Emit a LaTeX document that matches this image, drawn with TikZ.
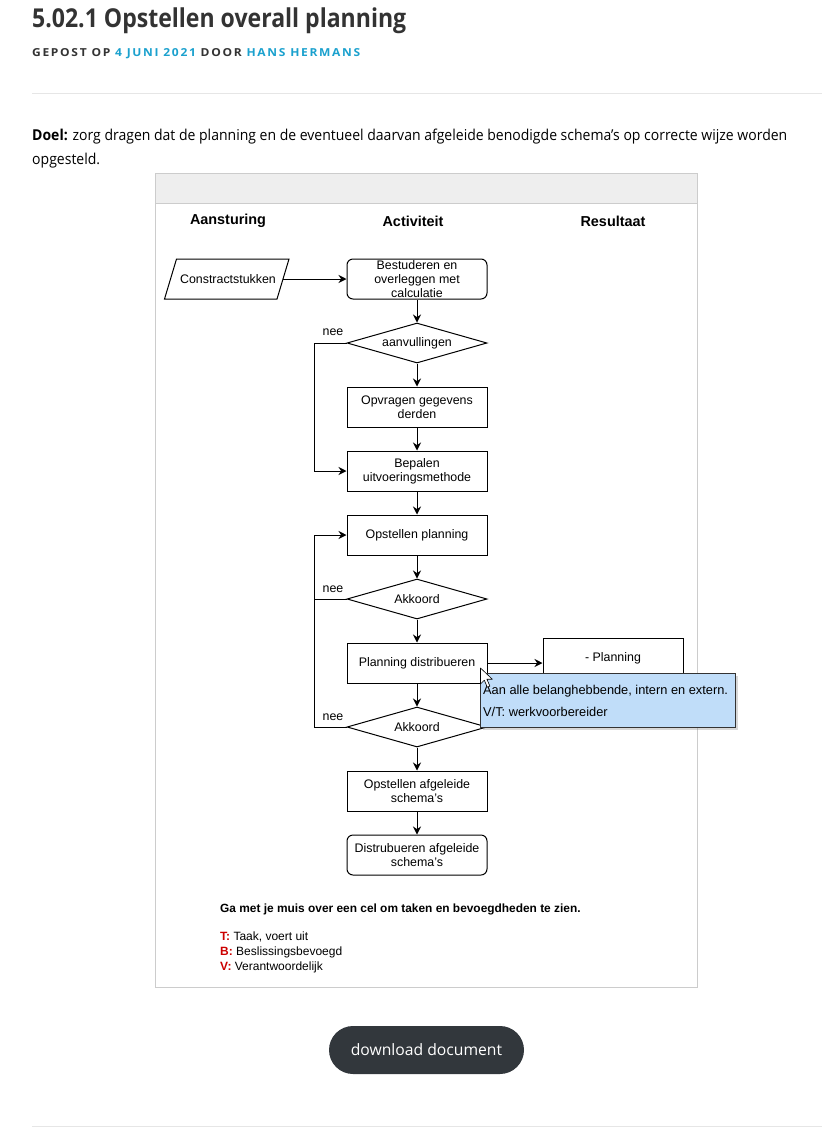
\documentclass[tikz,border=0pt]{standalone}
\usepackage{fontspec}
\usepackage{graphicx}
\setmainfont{Liberation Sans}
\newfontfamily\os{Open Sans}
\newfontfamily\osspaced[LetterSpace=14]{Open Sans}
\usetikzlibrary{shapes.geometric,arrows.meta,shadows}
\definecolor{titlecol}{HTML}{333333}
\definecolor{linkcol}{HTML}{1BA1CE}
\definecolor{framegray}{HTML}{CCCCCC}
\definecolor{headgray}{HTML}{EEEEEE}
\definecolor{hrgray}{HTML}{E6E6E6}
\definecolor{tipfill}{HTML}{C0DDF9}
\definecolor{tipline}{HTML}{333333}
\definecolor{legred}{HTML}{CC0000}
\definecolor{btn}{HTML}{32373C}
\begin{document}
\begin{tikzpicture}[x=1pt,y=-1pt,
  flow/.style={font=\fontsize{12.4}{14}\selectfont, align=center},
  box/.style={flow, draw, line width=1pt, minimum width=140pt, minimum height=40pt, inner sep=1pt},
  rbox/.style={box, rounded corners=6pt},
  dec/.style={flow, draw, line width=1pt, diamond, minimum width=140pt, minimum height=40pt, inner sep=0pt, aspect=3.5},
  arr/.style={-{Stealth[length=8pt,width=8pt]}, line width=1pt},
  con/.style={line width=1pt},
  lbl/.style={font=\fontsize{12.4}{14}\selectfont},
  colhead/.style={font=\bfseries\fontsize{14.4}{16}\selectfont},
  legend/.style={anchor=base west, font=\fontsize{12}{14}\selectfont, inner sep=0pt},
  tipbox/.style={draw=tipline, fill=tipfill, line width=0.8pt, minimum width=255pt, minimum height=54pt, inner sep=0pt,
    drop shadow={opacity=0.3, shadow xshift=2.5pt, shadow yshift=-2.5pt}},
  tiptext/.style={anchor=base west, font=\fontsize{12.8}{15}\selectfont, inner sep=0pt},
  hr/.style={draw=hrgray, line width=1pt}
]
\useasboundingbox (0,0) rectangle (830,1138);
\fill[white] (0,0) rectangle (830,1138);

% page header
\node[anchor=base west, inner sep=0pt, text=titlecol, font=\os\bfseries\fontsize{26}{30}\selectfont] (title) at (32,27)
  {\resizebox{374pt}{\height}{5.02.1 Opstellen overall planning}};
\node[anchor=base west, inner sep=0pt, font=\osspaced\bfseries\fontsize{11}{13}\selectfont] (meta) at (32,56.5)
  {\resizebox{328pt}{\height}{\textcolor{titlecol}{GEPOST OP} \textcolor{linkcol}{4 JUNI 2021} \textcolor{titlecol}{DOOR} \textcolor{linkcol}{HANS HERMANS}}};
\draw[hr] (32,93.5) -- (822,93.5);

\node[anchor=base west, inner sep=0pt, text=black, font=\os\fontsize{15}{18}\selectfont] (doel1) at (32,140)
  {\resizebox{755pt}{\height}{\textbf{Doel:} zorg dragen dat de planning en de eventueel daarvan afgeleide benodigde schema’s op correcte wijze worden}};
\node[anchor=base west, inner sep=0pt, text=black, font=\os\fontsize{15}{18}\selectfont] (doel2) at (32,164)
  {\resizebox{68pt}{\height}{opgesteld.}};

% frame
\fill[headgray] (155.5,173.5) rectangle (697.5,203.5);
\draw[framegray, line width=1pt] (155.5,173.5) rectangle (697.5,987.5);
\draw[framegray, line width=1pt] (155.5,203.5) -- (697.5,203.5);

% column headings
\node[colhead] (h1) at (228,221) {Aansturing};
\node[colhead] (h2) at (413,221) {Activiteit};
\node[colhead] (h3) at (613,221) {Resultaat};

% input parallelogram
\draw[line width=1pt] (164.5,299) -- (176.5,259) -- (289,259) -- (277,299) -- cycle;
\node[flow] (cs) at (228,279) {Constractstukken};
\coordinate (csr) at (283,279);

% flow
\node[rbox] (b1) at (417,279) {Bestuderen en\\overleggen met\\calculatie};
\node[dec] (d1) at (417,343) {aanvullingen};
\node[box] (b2) at (417,407) {Opvragen gegevens\\derden};
\node[box] (b3) at (417,471) {Bepalen\\uitvoeringsmethode};
\node[box] (b4) at (417,535) {Opstellen planning};
\node[dec] (d2) at (417,599) {Akkoord};
\node[box] (b5) at (417,663) {Planning distribueren};
\node[box] (r1) at (613,658) {- Planning};
\node[dec] (d3) at (417,727) {Akkoord};
\node[box] (b6) at (417,791) {Opstellen afgeleide\\schema's};
\node[rbox] (b7) at (417,855) {Distrubueren afgeleide\\schema's};

\draw[arr] (csr) -- (b1.west |- csr);
\draw[arr] (b1) -- (d1);
\draw[arr] (d1) -- (b2);
\draw[arr] (b2) -- (b3);
\draw[arr] (b3) -- (b4);
\draw[arr] (b4) -- (d2);
\draw[arr] (d2) -- (b5);
\draw[arr] (b5) -- (d3);
\draw[arr] (d3) -- (b6);
\draw[arr] (b6) -- (b7);
\draw[arr] (b5.east) -- (b5.east -| r1.west);

% loops
\draw[arr] (d1.west) -- ++(-32,0) |- (b3.west);
\draw[arr] (d3.west) -- ++(-32,0) |- (b4.west);
\draw[con] (d2.west) -- ++(-32,0);
\node[lbl] (n1) at (333,332) {nee};
\node[lbl] (n2) at (333,589) {nee};
\node[lbl] (n3) at (333,717) {nee};

% legend
\node[legend, font=\bfseries\fontsize{11.9}{14}\selectfont] (lg0) at (220,912) {Ga met je muis over een cel om taken en bevoegdheden te zien.};
\node[legend] (lg1) at (220,940) {\textcolor{legred}{\textbf{T:}} Taak, voert uit};
\node[legend] (lg2) at (220,955) {\textcolor{legred}{\textbf{B:}} Beslissingsbevoegd};
\node[legend] (lg3) at (220,970) {\textcolor{legred}{\textbf{V:}} Verantwoordelijk};

% tooltip
\node[tipbox] (tip) at (607.5,700.5) {};
\node[tiptext] (tip1) at (483,694.5) {Aan alle belanghebbende, intern en extern.};
\node[tiptext] (tip2) at (483,716.5) {V/T: werkvoorbereider};
\filldraw[fill=white, draw=black, line width=0.6pt, line join=round] (480.5,668) -- ++(0,16) -- ++(3.8,-3.8) -- ++(3,7) -- ++(2.6,-1.1) -- ++(-3,-6.9) -- ++(5.4,0) -- cycle;

% button
\node[fill=btn, rounded corners=24pt, minimum width=195pt, minimum height=48pt, inner sep=0pt, text=white,
  font=\os\fontsize{15.7}{19}\selectfont] (dl) at (426.5,1050) {download document};

\draw[hr] (32,1126.5) -- (822,1126.5);
\end{tikzpicture}
\end{document}
